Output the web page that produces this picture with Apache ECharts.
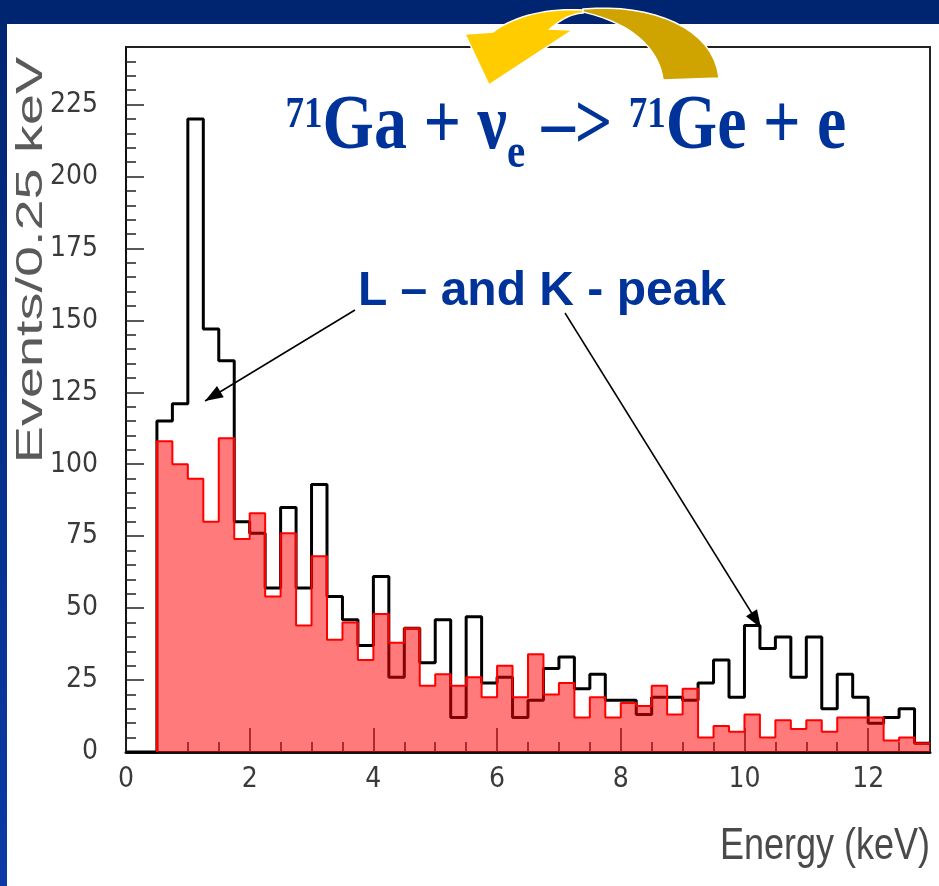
<!DOCTYPE html>
<html><head><meta charset="utf-8">
<script src="https://cdn.jsdelivr.net/npm/echarts@6/dist/echarts.min.js"></script>
<style>html,body{margin:0;padding:0;background:#fff}#c{width:939px;height:886px}</style>
</head><body><div id="c"></div>
<script>
// Bin left edges (keV), bin width 0.25 keV
const binEdges = [0,0.25,0.5,0.75,1,1.25,1.5,1.75,2,2.25,2.5,2.75,3,3.25,3.5,3.75,4,4.25,4.5,4.75,
  5,5.25,5.5,5.75,6,6.25,6.5,6.75,7,7.25,7.5,7.75,8,8.25,8.5,8.75,9,9.25,9.5,9.75,
  10,10.25,10.5,10.75,11,11.25,11.5,11.75,12,12.25,12.5,12.75];
const rangeEnd = 13;
// Black histogram (all events)
const totalCounts = [0,0,115,121,220,147,136,80,76,57,85,57,93,54,46,37,61,26,43,31,
  46,12,47,24,26,12,18,29,33,22,27,18,18,13,19,19,18,24,32,19,
  44,36,40,26,40,15,27,19,10,12,15,3];
// Red histogram
const redCounts = [0,0,108,100,95,80,109,74,83,54,76,44,68,39,45,32,48,38,43,23,
  27,23,26,19,30,19,34,20,24,12,19,12,17,16,23,13,22,5,9,7,
  13,5,11,8,11,7,12,12,12,4,5,3];
const yTicks = [0,25,50,75,100,125,150,175,200,225];
const xTicks = [0,2,4,6,8,10,12];

const blackData = binEdges.map((e, i) => [e, totalCounts[i]]);
blackData.push([rangeEnd, totalCounts[totalCounts.length - 1]]);
const firstRed = redCounts.findIndex(v => v > 0);
const redData = [[binEdges[firstRed], 0]];
for (let i = firstRed; i < binEdges.length; i++) redData.push([binEdges[i], redCounts[i]]);
redData.push([rangeEnd, redCounts[redCounts.length - 1]]);

function arrowHead(x1, y1, x2, y2, len, w) {
  const a = Math.atan2(y2 - y1, x2 - x1);
  const bx = x2 - len * Math.cos(a), by = y2 - len * Math.sin(a);
  const px = Math.sin(a) * w / 2, py = -Math.cos(a) * w / 2;
  return [[x2, y2], [bx + px, by + py], [bx - px, by - py]];
}
// outline builder: segments are either points [x,y] or cubic ['C', c1x,c1y,c2x,c2y,x,y]
function outline(segs) {
  const pts = [];
  let cur = null;
  segs.forEach(s => {
    if (s[0] === 'C') {
      const [, a, b, c, d, e, f] = s;
      for (let t = 1; t <= 16; t++) {
        const u = t / 16, v = 1 - u;
        pts.push([v*v*v*cur[0] + 3*v*v*u*a + 3*v*u*u*c + u*u*u*e,
                  v*v*v*cur[1] + 3*v*v*u*b + 3*v*u*u*d + u*u*u*f]);
      }
      cur = [e, f];
    } else { pts.push(s); cur = s; }
  });
  return pts;
}
const yellowShape = outline([[583,10], ['C',550,8,515,15,493,32], [465,34], [489,85], [573,30], [550,29], ['C',560,20,570,14,583,13]]);
const goldShape = outline([[583,9], ['C',652,3,714,28,719,78], [663,80], ['C',660,55,640,25,583,12]]);
const arr1 = [355, 310, 205, 401];
const arr2 = [565, 313, 761, 628];

const navy = '#003399';
const serif = "'Liberation Serif', 'Times New Roman', serif";
const labelFont = "'Liberation Sans Narrow', 'DejaVu Sans Condensed', 'Liberation Sans', sans-serif";
const chart = echarts.init(document.getElementById('c'), null, {renderer: 'canvas'});
chart.setOption({
  backgroundColor: '#ffffff',
  animation: false,
  grid: {left: 126, right: 9, top: 47, bottom: 134, show: true, borderColor: '#222', borderWidth: 2, backgroundColor: 'transparent'},
  xAxis: {
    type: 'value', min: 0, max: rangeEnd, interval: 2,
    axisLine: {show: true, lineStyle: {color: '#111', width: 3}},
    axisTick: {show: true, inside: true, length: 24, lineStyle: {color: '#222', width: 1.5}},
    minorTick: {show: true, splitNumber: 4, length: 10, lineStyle: {color: '#222', width: 1.5}},
    splitLine: {show: false},
    axisLabel: {show: true, margin: 14, color: '#3a3a3a', fontSize: 28, fontFamily: labelFont, showMaxLabel: false},
  },
  yAxis: {
    type: 'value', min: 0, max: 245, interval: 25,
    axisLine: {show: true, lineStyle: {color: '#111', width: 2}},
    axisTick: {show: true, inside: true, length: 18, lineStyle: {color: '#222', width: 1.5}},
    minorTick: {show: true, splitNumber: 5, length: 10, lineStyle: {color: '#222', width: 1.5}},
    splitLine: {show: false},
    axisLabel: {show: true, margin: 28, color: '#3a3a3a', fontSize: 28, fontFamily: labelFont, showMaxLabel: false},
  },
  series: [
    {
      name: 'all events', type: 'line', step: 'end', data: blackData, symbol: 'none', z: 2,
      lineStyle: {color: '#000', width: 3}
    },
    {
      name: 'red', type: 'line', step: 'end', data: redData, symbol: 'none', z: 3,
      lineStyle: {color: '#ff0000', width: 2},
      areaStyle: {color: 'rgba(255,0,0,0.52)', opacity: 1, origin: 'start'}
    }
  ],
  graphic: {elements: [
    {type: 'rect', shape: {x: 0, y: 0, width: 939, height: 24}, style: {fill: '#002570'}, z: 50},
    {type: 'rect', shape: {x: 0, y: 0, width: 7, height: 886}, z: 50,
      style: {fill: new echarts.graphic.LinearGradient(0, 0, 0, 1, [{offset: 0, color: '#002570'}, {offset: 1, color: '#0a3aa5'}])}},
    {type: 'polygon', z: 60, shape: {points: yellowShape}, style: {fill: '#ffcc00', stroke: '#ffffff', lineWidth: 1.5}},
    {type: 'polygon', z: 61, shape: {points: goldShape}, style: {fill: '#cfa300', stroke: '#ffffff', lineWidth: 1.5}},
    {type: 'group', x: 566, y: 128, scaleY: 1.18, z: 70, children: [
      {type: 'text', z: 70, style: {
        text: '{sup|71}{m|Ga + ν}{sub|e}{m| –> }{sup|71}{m|Ge + e}',
        x: 0, y: 0, align: 'center', verticalAlign: 'middle', fill: navy,
        rich: {
          m: {fontSize: 66, lineHeight: 66, fontFamily: serif, fontWeight: 'bold', fill: navy},
          sup: {fontSize: 37, lineHeight: 37, padding: [0, 0, 21, 0], fontFamily: serif, fontWeight: 'bold', fill: navy},
          sub: {fontSize: 41, lineHeight: 41, padding: [45, 0, 0, 0], fontFamily: serif, fontWeight: 'bold', fill: navy}
        }
      }}
    ]},
    {type: 'text', z: 70, style: {text: 'L – and K - peak', x: 542, y: 292, align: 'center', verticalAlign: 'middle',
      fontSize: 48, fontWeight: 'bold', fontFamily: "'Liberation Sans', Arial, sans-serif", fill: navy}},
    {type: 'polyline', z: 70, shape: {points: [[arr1[0], arr1[1]], [arr1[2], arr1[3]]]}, style: {stroke: '#000', lineWidth: 1.5}},
    {type: 'polygon', z: 70, shape: {points: arrowHead(...arr1, 18, 13)}, style: {fill: '#000'}},
    {type: 'polyline', z: 70, shape: {points: [[arr2[0], arr2[1]], [arr2[2], arr2[3]]]}, style: {stroke: '#000', lineWidth: 1.5}},
    {type: 'polygon', z: 70, shape: {points: arrowHead(...arr2, 18, 13)}, style: {fill: '#000'}},
    {type: 'group', x: 32, y: 260, rotation: Math.PI / 2, scaleX: 1.55, z: 70, children: [
      {type: 'text', z: 70, style: {text: 'Events/0.25 keV', x: 0, y: 0, align: 'center', verticalAlign: 'middle',
        fontSize: 36, fontFamily: "'Liberation Sans', sans-serif", fill: '#5a5a5a'}}
    ]},
    {type: 'group', x: 930, y: 847, scaleY: 1.25, z: 70, children: [
      {type: 'text', z: 70, style: {text: 'Energy (keV)', x: 0, y: 0, align: 'right', verticalAlign: 'middle',
        fontSize: 36, fontFamily: "'Liberation Sans', sans-serif", fill: '#4a4a4a'}}
    ]}
  ]}
});
</script></body></html>
